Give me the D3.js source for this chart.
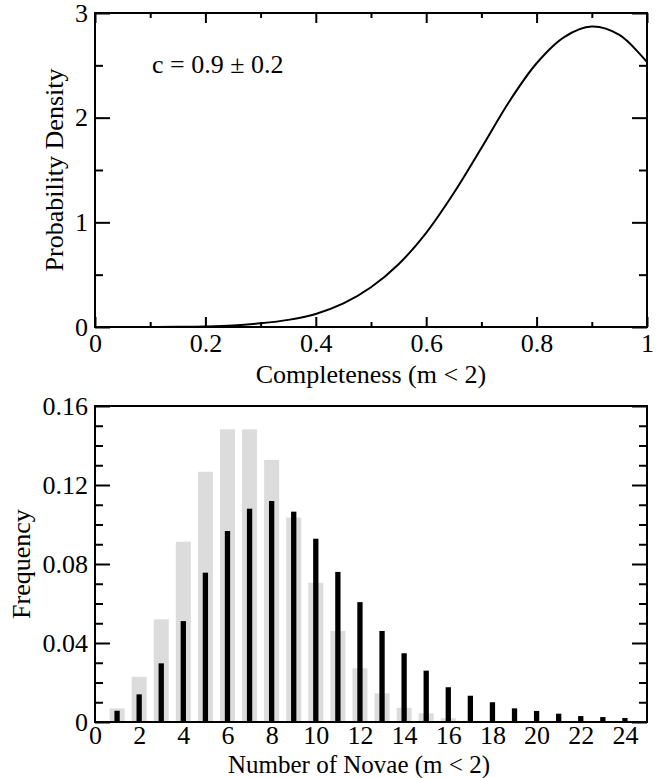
<!DOCTYPE html>
<html>
<head>
<meta charset="utf-8">
<script src="https://cdn.jsdelivr.net/npm/d3@7"></script>
<style>
  html, body { margin: 0; padding: 0; background: #fff; }
  svg { display: block; }
  text { font-family: "Liberation Serif", "Times New Roman", serif; fill: #000; }
</style>
</head>
<body>
<svg id="chart" width="662" height="778"></svg>
<script>
// ---- Top panel: probability density of completeness ----
const completeness = [0, 0.05, 0.1, 0.15, 0.2, 0.25, 0.3, 0.35, 0.4, 0.45, 0.5, 0.55, 0.6, 0.65, 0.7, 0.75, 0.8, 0.85, 0.9, 0.95, 1.0];
const density      = [0, 0, 0.0005, 0.0015, 0.005, 0.014, 0.035, 0.068, 0.125, 0.225, 0.38, 0.6, 0.9, 1.28, 1.71, 2.15, 2.52, 2.77, 2.87, 2.79, 2.53];
const topXTicks = [0, 0.2, 0.4, 0.6, 0.8, 1];
const topXMinor = [0.1, 0.3, 0.5, 0.7, 0.9];
const topYTicks = [0, 1, 2, 3];
const topYMinor = [0.5, 1.5, 2.5];
const annotation = "c = 0.9 \u00b1 0.2";

// ---- Bottom panel: histogram of number of novae ----
const novaeN      = [1, 2, 3, 4, 5, 6, 7, 8, 9, 10, 11, 12, 13, 14, 15, 16, 17, 18, 19, 20, 21, 22, 23, 24];
const freqGray    = [0.0069, 0.0229, 0.052, 0.0913, 0.1267, 0.1482, 0.1482, 0.1327, 0.1035, 0.0705, 0.0461, 0.0272, 0.0145, 0.0072, 0.0044, 0.0019, 0.0006, 0, 0, 0, 0, 0, 0, 0];
const freqBlack   = [0.0057, 0.014, 0.0297, 0.0511, 0.0756, 0.0967, 0.108, 0.1119, 0.1065, 0.0928, 0.076, 0.0607, 0.0461, 0.0348, 0.026, 0.0176, 0.0133, 0.01, 0.0069, 0.0056, 0.0042, 0.003, 0.0025, 0.002];
const botXTicks = [0, 2, 4, 6, 8, 10, 12, 14, 16, 18, 20, 22, 24];
const botYTicks = [0, 0.04, 0.08, 0.12, 0.16];
const botYMinor = [0.01, 0.02, 0.03, 0.05, 0.06, 0.07, 0.09, 0.10, 0.11, 0.13, 0.14, 0.15];

const svg = d3.select("#chart");
const FS = 26;

function styleAxis(g) {
  g.select(".domain").remove();
  g.selectAll(".tick line").attr("stroke", "#000").attr("stroke-width", 2);
  g.selectAll(".tick text").attr("font-family", "Liberation Serif, serif").attr("font-size", FS).attr("fill", "#000");
}

// ===== Top panel =====
const xT = d3.scaleLinear().domain([0, 1]).range([95, 647]);
const yT = d3.scaleLinear().domain([0, 3]).range([327, 13]);

svg.append("g").attr("transform", `translate(${xT(0)},0)`)
  .call(d3.axisLeft(yT).tickValues(topYTicks).tickSize(-15).tickPadding(7).tickFormat(d3.format("d"))).call(styleAxis);
svg.append("g").attr("transform", `translate(${xT(0)},0)`)
  .call(d3.axisLeft(yT).tickValues(topYMinor).tickSize(-8).tickFormat("")).call(styleAxis);
svg.append("g").attr("transform", `translate(${xT(1)},0)`)
  .call(d3.axisRight(yT).tickValues(topYTicks).tickSize(-15).tickFormat("")).call(styleAxis);
svg.append("g").attr("transform", `translate(${xT(1)},0)`)
  .call(d3.axisRight(yT).tickValues(topYMinor).tickSize(-8).tickFormat("")).call(styleAxis);
svg.append("g").attr("transform", `translate(0,${yT(0)})`)
  .call(d3.axisBottom(xT).tickValues(topXTicks).tickSize(-10).tickPadding(7).tickFormat(d => d3.format("")(d))).call(styleAxis);
svg.append("g").attr("transform", `translate(0,${yT(0)})`)
  .call(d3.axisBottom(xT).tickValues(topXMinor).tickSize(-5).tickFormat("")).call(styleAxis);
svg.append("g").attr("transform", `translate(0,${yT(3)})`)
  .call(d3.axisTop(xT).tickValues(topXTicks).tickSize(-10).tickFormat("")).call(styleAxis);
svg.append("g").attr("transform", `translate(0,${yT(3)})`)
  .call(d3.axisTop(xT).tickValues(topXMinor).tickSize(-5).tickFormat("")).call(styleAxis);

const line = d3.line().x((d, i) => xT(completeness[i])).y(d => yT(d)).curve(d3.curveCatmullRom.alpha(0.5));
svg.append("path").datum(density).attr("d", line)
  .attr("fill", "none").attr("stroke", "#000").attr("stroke-width", 2);

svg.append("rect").attr("x", xT(0)).attr("y", yT(3)).attr("width", xT(1) - xT(0)).attr("height", yT(0) - yT(3))
  .attr("fill", "none").attr("stroke", "#000").attr("stroke-width", 2);

svg.append("text").attr("x", 152).attr("y", 73).attr("font-size", FS).text(annotation);
svg.append("text").attr("x", 371).attr("y", 383).attr("text-anchor", "middle").attr("font-size", FS).text("Completeness (m < 2)");
svg.append("text").attr("transform", "translate(63,170) rotate(-90)").attr("text-anchor", "middle").attr("font-size", FS).text("Probability Density");

// ===== Bottom panel =====
const xB = d3.scaleLinear().domain([0, 25]).range([95, 647]);
const yB = d3.scaleLinear().domain([0, 0.16]).range([722, 406]);

const grayW = xB(0.68) - xB(0);
const blackW = xB(0.24) - xB(0);

svg.append("g").selectAll("rect").data(novaeN.map((n, i) => ({ n, v: freqGray[i] })).filter(d => d.v > 0))
  .join("rect")
  .attr("x", d => xB(d.n) - grayW / 2).attr("width", grayW)
  .attr("y", d => yB(d.v)).attr("height", d => yB(0) - yB(d.v))
  .attr("fill", "#dcdcdc");

svg.append("g").selectAll("rect").data(novaeN.map((n, i) => ({ n, v: freqBlack[i] })))
  .join("rect")
  .attr("x", d => xB(d.n) - blackW / 2).attr("width", blackW)
  .attr("y", d => yB(d.v)).attr("height", d => yB(0) - yB(d.v))
  .attr("fill", "#000");

svg.append("g").attr("transform", `translate(${xB(0)},0)`)
  .call(d3.axisLeft(yB).tickValues(botYTicks).tickSize(-15).tickPadding(7).tickFormat(d => d === 0 ? "0" : d3.format(".2f")(d))).call(styleAxis);
svg.append("g").attr("transform", `translate(${xB(0)},0)`)
  .call(d3.axisLeft(yB).tickValues(botYMinor).tickSize(-8).tickFormat("")).call(styleAxis);
svg.append("g").attr("transform", `translate(${xB(25)},0)`)
  .call(d3.axisRight(yB).tickValues(botYTicks).tickSize(-15).tickFormat("")).call(styleAxis);
svg.append("g").attr("transform", `translate(${xB(25)},0)`)
  .call(d3.axisRight(yB).tickValues(botYMinor).tickSize(-8).tickFormat("")).call(styleAxis);
svg.append("g").attr("transform", `translate(0,${yB(0)})`)
  .call(d3.axisBottom(xB).tickValues(botXTicks).tickSize(0).tickPadding(4).tickFormat(d3.format("d"))).call(styleAxis);

svg.append("rect").attr("x", xB(0)).attr("y", yB(0.16)).attr("width", xB(25) - xB(0)).attr("height", yB(0) - yB(0.16))
  .attr("fill", "none").attr("stroke", "#000").attr("stroke-width", 2);

svg.append("text").attr("x", 359).attr("y", 772.5).attr("text-anchor", "middle").attr("font-size", 25).text("Number of Novae (m < 2)");
svg.append("text").attr("transform", "translate(30,564) rotate(-90)").attr("text-anchor", "middle").attr("font-size", FS).text("Frequency");
</script>
</body>
</html>
